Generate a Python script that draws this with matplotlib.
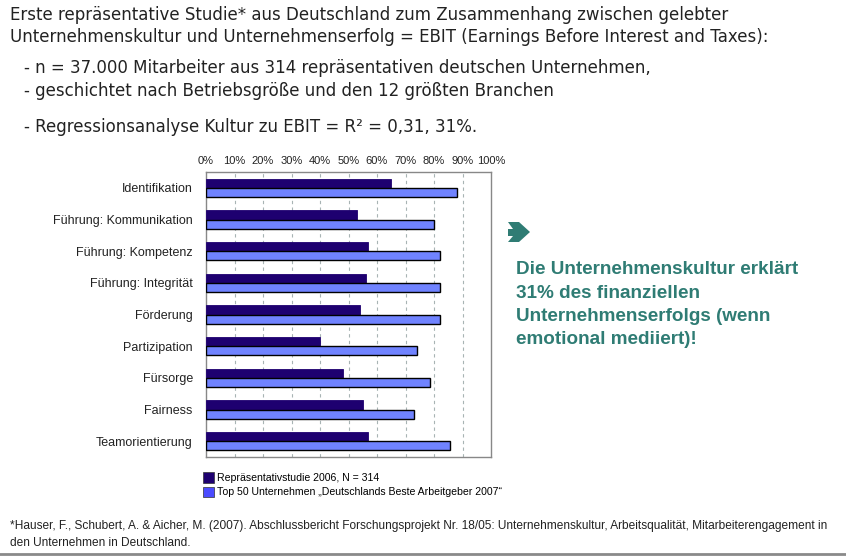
import matplotlib
matplotlib.use("Agg")
import matplotlib.pyplot as plt
import numpy as np
from matplotlib.patches import Patch, Polygon
from matplotlib.lines import Line2D

categories = [
    "Identifikation",
    "Führung: Kommunikation",
    "Führung: Kompetenz",
    "Führung: Integrität",
    "Förderung",
    "Partizipation",
    "Fürsorge",
    "Fairness",
    "Teamorientierung",
]
repr_2006 = [65, 53, 57, 56, 54, 40, 48, 55, 57]
top50_2007 = [88, 80, 82, 82, 82, 74, 78.5, 73, 85.5]
series_labels = [
    "Repräsentativstudie 2006, N = 314",
    "Top 50 Unternehmen \u201eDeutschlands Beste Arbeitgeber 2007\u201c",
]
x_ticks = list(range(0, 101, 10))

header_lines = [
    "Erste repräsentative Studie* aus Deutschland zum Zusammenhang zwischen gelebter",
    "Unternehmenskultur und Unternehmenserfolg = EBIT (Earnings Before Interest and Taxes):",
]
bullet_lines = [
    "- n = 37.000 Mitarbeiter aus 314 repräsentativen deutschen Unternehmen,",
    "- geschichtet nach Betriebsgröße und den 12 größten Branchen",
    "- Regressionsanalyse Kultur zu EBIT = R² = 0,31, 31%.",
]
callout_lines = [
    "Die Unternehmenskultur erklärt",
    "31% des finanziellen",
    "Unternehmenserfolgs (wenn",
    "emotional mediiert)!",
]
footnote_lines = [
    "*Hauser, F., Schubert, A. & Aicher, M. (2007). Abschlussbericht Forschungsprojekt Nr. 18/05: "
    "Unternehmenskultur, Arbeitsqualität, Mitarbeiterengagement in",
    "den Unternehmen in Deutschland.",
]

W, H = 846, 556
DARK = "#1e0070"
LIGHT = "#7083ff"
TEAL = "#2f7c74"

fig = plt.figure(figsize=(W / 100, H / 100), dpi=100)
fig.patch.set_facecolor("white")


def fx(px):
    return px / W


def fy(py):
    return 1 - py / H


# --- header text ---
head_font = dict(family="DejaVu Sans", fontsize=12, color="#222222", va="center")
fig.text(fx(10), fy(15), header_lines[0], **head_font)
fig.text(fx(10), fy(37), header_lines[1], **head_font)
fig.text(fx(24), fy(68), bullet_lines[0], **head_font)
fig.text(fx(24), fy(91), bullet_lines[1], **head_font)
fig.text(fx(24), fy(127), bullet_lines[2], **head_font)

# --- bar chart ---
ax = fig.add_axes([fx(206), fy(457), fx(491) - fx(206), fy(172) - fy(457)])
y = np.arange(len(categories))
bh = 0.29
ax.barh(y - bh / 2, repr_2006, height=bh, color=DARK, edgecolor=DARK, linewidth=0.6, zorder=3)
ax.barh(y + bh / 2, top50_2007, height=bh, color=LIGHT, edgecolor="black", linewidth=1.0, zorder=3)
ax.set_xlim(0, 100)
ax.set_ylim(len(categories) - 0.5, -0.5)
ax.set_yticks(y)
ax.set_yticklabels(categories, family="Liberation Sans", fontsize=9, color="#222222")
ax.tick_params(axis="y", length=0, pad=9.5)
ax.xaxis.tick_top()
ax.set_xticks(x_ticks)
ax.set_xticklabels([f"{t}%" for t in x_ticks], family="Liberation Sans", fontsize=8, color="#222222")
ax.tick_params(axis="x", length=0, pad=4)
for t in x_ticks[1:-1]:
    ax.axvline(t, color="#a8b4b4", linestyle=(0, (3, 3)), linewidth=0.8, zorder=1)
for s in ax.spines.values():
    s.set_color("#888888")
    s.set_linewidth(1.0)

# --- legend ---
handles = [
    Patch(facecolor=DARK, edgecolor="#333333", linewidth=0.5),
    Patch(facecolor="#4b4bff", edgecolor="#333333", linewidth=0.5),
]
leg = fig.legend(handles, series_labels, loc="upper left",
                 bbox_to_anchor=(fx(196), fy(465)), frameon=False,
                 prop={"family": "Liberation Sans", "size": 7.6},
                 handlelength=1.05, handleheight=1.1, handletextpad=0.2,
                 labelspacing=0.35, borderpad=0.2)

# --- callout arrow + text ---
arrow_px = [(508, 222), (519, 222), (530, 232), (519, 242), (508, 242),
            (513, 236), (508, 236), (508, 229), (513, 229)]
fig.patches.append(Polygon([(fx(a), fy(b)) for a, b in arrow_px], closed=True,
                           facecolor=TEAL, edgecolor="none", transform=fig.transFigure))
for i, line in enumerate(callout_lines):
    fig.text(fx(516), fy(270 + i * 23.3), line, family="Liberation Sans",
             fontweight="bold", fontsize=13.6, color=TEAL, va="center")

# --- footnote ---
for i, line in enumerate(footnote_lines):
    fig.text(fx(10), fy(526 + i * 17), line, family="Liberation Sans",
             fontsize=8.6, color="#222222", va="center")

fig.add_artist(Line2D([0, 1], [fy(554), fy(554)], color="#8a8a8a", linewidth=2,
                      transform=fig.transFigure))

fig.savefig("out.png", dpi=100, facecolor="white")
